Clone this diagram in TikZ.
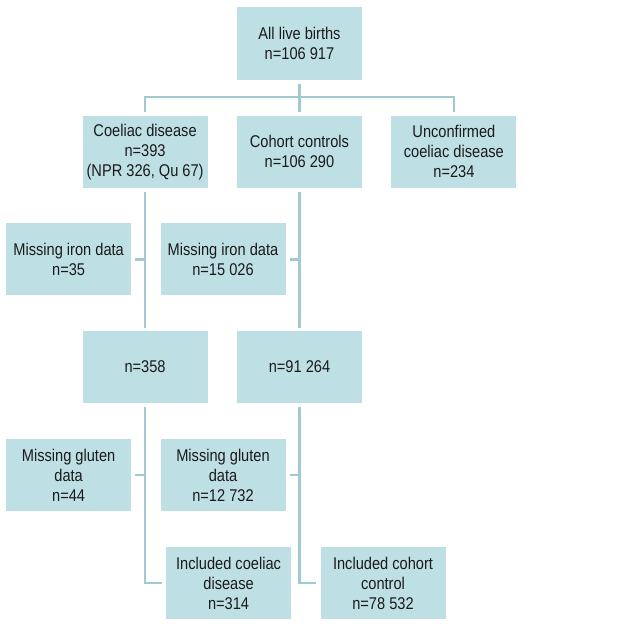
\documentclass[tikz,border=0pt]{standalone}
\usepackage{fontspec}
\setmainfont{Liberation Sans}[FakeStretch=0.86]
\usepackage{xcolor}
\usepackage{tikz}
\usetikzlibrary{positioning, calc}

\definecolor{boxfill}{RGB}{190,224,228}
\definecolor{linkgray}{RGB}{160,202,208}
\definecolor{textgray}{RGB}{26,26,26}

\begin{document}
\begin{tikzpicture}[
    node distance=36pt and 29pt,
    box/.style={fill=boxfill, align=center, minimum width=125pt, minimum height=72pt, inner sep=2pt,
        text=textgray, font=\fontsize{17pt}{20pt}\selectfont},
    link/.style={draw=linkgray, line width=2.4pt}
]
\useasboundingbox (0,0) rectangle (629pt,-626pt);

\node[box] (births) at (299.5pt,-43.5pt) {All live births\\n=106 917};
\node[box, below=of births] (cohort) {Cohort controls\\n=106 290};
\node[box, left=of cohort] (coeliac) {Coeliac disease\\n=393\\(NPR 326, Qu 67)};
\node[box, right=of cohort] (unconf) {Unconfirmed\\coeliac disease\\n=234};

\node[box, below=35pt of coeliac, xshift=-76.5pt] (cdMissIron) {Missing iron data\\n=35};
\node[box, right=of cdMissIron] (ctrlMissIron) {Missing iron data\\n=15 026};

\node[box, below=142.5pt of coeliac] (cdAll) {n=358};
\node[box, right=of cdAll] (ctrlAll) {n=91 264};

\node[box, below=of cdAll, xshift=-76.5pt] (cdMissGluten) {Missing gluten\\data\\n=44};
\node[box, right=of cdMissGluten] (ctrlMissGluten) {Missing gluten\\data\\n=12 732};

\node[box, below=144pt of cdAll, xshift=83.5pt] (cdIncl) {Included coeliac\\disease\\n=314};
\node[box, right=of cdIncl] (ctrlIncl) {Included cohort\\control\\n=78 532};

% split from all births
\coordinate (split) at ($(births.south)!0.48!(cohort.north)$);
\draw[link] ([yshift=-4pt]births.south) -- ([yshift=4pt]cohort.north);
\draw[link] ([yshift=4pt]coeliac.north) |- (split) -| ([yshift=4pt]unconf.north);

% coeliac branch
\draw[link] ([yshift=-4pt]coeliac.south) -- ([yshift=3pt]cdAll.north);
\draw[link] ([xshift=4pt]cdMissIron.east) -- (cdMissIron.east -| coeliac.south);
\draw[link] ([yshift=-4pt]cdAll.south) |- ([xshift=-4pt]cdIncl.west);
\draw[link] ([xshift=4pt]cdMissGluten.east) -- (cdMissGluten.east -| cdAll.south);

% control branch
\draw[link] ([yshift=-4pt]cohort.south) -- ([yshift=3pt]ctrlAll.north);
\draw[link] ([xshift=4pt]ctrlMissIron.east) -- (ctrlMissIron.east -| cohort.south);
\draw[link] ([yshift=-4pt]ctrlAll.south) |- ([xshift=-4pt]ctrlIncl.west);
\draw[link] ([xshift=4pt]ctrlMissGluten.east) -- (ctrlMissGluten.east -| ctrlAll.south);

\end{tikzpicture}
\end{document}
